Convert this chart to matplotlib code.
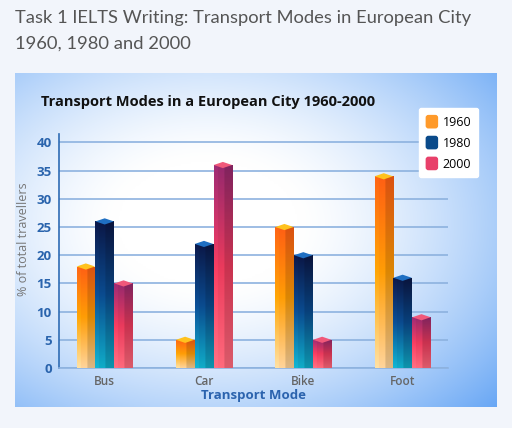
import numpy as np
import matplotlib
matplotlib.use('Agg')
import matplotlib.pyplot as plt
from matplotlib.patches import Polygon, Patch, FancyBboxPatch
from matplotlib.legend_handler import HandlerPatch
from matplotlib.colors import to_rgb

#T# data
modes = ['Bus', 'Car', 'Bike', 'Foot']
years = ['1960', '1980', '2000']
vals_1960 = [18, 5, 25, 34]
vals_1980 = [26, 22, 20, 16]
vals_2000 = [15, 36, 5, 9]
y_ticks = [0, 5, 10, 15, 20, 25, 30, 35, 40]

#T# colours of each series: top, middle, bottom, cap, legend
styles = {
    '1960': ('#ff5f14', '#ff9d05', '#ffd49a', '#ffc21e', '#ff9a2a'),
    '1980': ('#0b1746', '#0a4b8f', '#10acc8', '#1f6fc2', '#0a4a8a'),
    '2000': ('#96296e', '#ea3a5c', '#ff6a7c', '#f0587a', '#e8406a'),
}

fig = plt.figure(figsize=(5.12, 4.28), dpi=100)
fig.patch.set_facecolor('#f2f5fb')

#T# header text of the page
fig.text(15/512, 1 - 18/428, 'Task 1 IELTS Writing: Transport Modes in European City',
         fontsize=13.2, color='#555555', family='Lato', va='center')
fig.text(15/512, 1 - 44/428, '1960, 1980 and 2000',
         fontsize=13.2, color='#555555', family='Lato', va='center')

#T# panel with a white to blue gradient
bg = fig.add_axes([15/512, 1 - 407/428, 482/512, 334/428])
yy, xx = np.mgrid[0:1:200j, 0:1:300j]
d = np.sqrt(((xx - 0.4) / 0.75)**2 + ((yy - 0.45) / 0.75)**2)
t = np.clip(d - 0.25, 0, 1)**1.4
white = np.array(to_rgb('#ffffff'))
blue = np.array(to_rgb('#3e8ef2'))
img = white[None, None, :] * (1 - t[..., None]) + blue[None, None, :] * t[..., None]
bg.imshow(np.clip(img, 0, 1), aspect='auto', extent=[0, 1, 0, 1], origin='upper')
bg.axis('off')

fig.text(41/512, 1 - 102/428, 'Transport Modes in a European City 1960-2000',
         fontsize=10.5, fontweight='bold', color='#111111', family='Open Sans', va='center')

ax = fig.add_axes([58.7/512, 60/428, (448 - 58.7)/512, 234/428])
ax.patch.set_alpha(0)

x = np.arange(len(modes))
width = 0.185
offsets = [-0.19, 0.0, 0.19]


def bar_gradient(c_top, c_mid, c_bot, n=120):
    s = np.linspace(0, 1, n)[:, None]
    top, mid, bot = (np.array(to_rgb(c)) for c in (c_top, c_mid, c_bot))
    col = np.where(s[..., None] < 0.5,
                   top * (1 - 2*s[..., None]) + mid * (2*s[..., None]),
                   mid * (2 - 2*s[..., None]) + bot * (2*s[..., None] - 1))
    col = np.repeat(col, 20, axis=1)
    shade = np.ones(20)
    shade[11:] = 0.86
    shade[:4] = 1.06
    return np.clip(col * shade[None, :, None], 0, 1)


for year, vals, off in zip(years, [vals_1960, vals_1980, vals_2000], offsets):
    c_top, c_mid, c_bot, c_cap, _ = styles[year]
    bars = ax.bar(x + off, vals, width, color='none', edgecolor='none', zorder=3)
    grad = bar_gradient(c_top, c_mid, c_bot)
    for b in bars:
        x0, w, h = b.get_x(), b.get_width(), b.get_height()
        im = ax.imshow(grad, extent=[x0, x0 + w, 0, h], aspect='auto',
                       origin='upper', zorder=3)
        im.set_clip_path(b)
        cap = Polygon([(x0, h), (x0 + w/2, h + 0.55), (x0 + w, h), (x0 + w/2, h - 0.55)],
                      closed=True, facecolor=c_cap, edgecolor='none', zorder=4)
        ax.add_patch(cap)

ax.set_xlim(-0.463, 3.457)
ax.set_ylim(0, 41.5)
ax.set_yticks(y_ticks)
ax.set_xticks(x)
ax.set_xticklabels(modes)
ax.yaxis.grid(True, color='#8db2df', linewidth=1.2, zorder=0)
ax.set_axisbelow(True)
for s in ['top', 'right']:
    ax.spines[s].set_visible(False)
ax.spines['left'].set_color('#2f6cb4')
ax.spines['left'].set_linewidth(1.2)
ax.spines['bottom'].set_color('#8db2df')
ax.spines['bottom'].set_linewidth(1.2)
ax.tick_params(axis='both', length=0)
ax.tick_params(axis='y', pad=5, labelcolor='#2a64ad', labelsize=9.5)
ax.tick_params(axis='x', pad=5, labelcolor='#666666', labelsize=8.5)
for lbl in ax.get_yticklabels():
    lbl.set_fontweight('bold')
    lbl.set_family('Open Sans')
for lbl in ax.get_xticklabels():
    lbl.set_family('Open Sans')
    lbl.set_fontweight('semibold')
ax.set_ylabel('% of total travellers', fontsize=9, color='#777777', family='Open Sans')
ax.yaxis.set_label_coords(-0.074, 0.55)
ax.set_xlabel('Transport Mode', fontsize=9.5, color='#2b63ae', fontweight='bold',
              family='Open Sans', labelpad=1)


class RoundHandler(HandlerPatch):
    def create_artists(self, legend, orig_handle, xdescent, ydescent, width, height, fontsize, trans):
        p = FancyBboxPatch((-xdescent, -ydescent), width, height,
                           boxstyle='round,pad=0,rounding_size=2',
                           facecolor=orig_handle.get_facecolor(), edgecolor='none', transform=trans)
        return [p]


handles = [Patch(facecolor=styles[y][4], edgecolor='none') for y in years]
leg = fig.legend(handles, years, loc='upper right', bbox_to_anchor=(478/512, 1 - 108/428),
                 frameon=True, fancybox=True, facecolor='white', edgecolor='white',
                 framealpha=1, handlelength=1.0, handleheight=1.3, borderaxespad=0,
                 handletextpad=0.35, labelspacing=0.55, borderpad=0.55,
                 handler_map={Patch: RoundHandler()},
                 prop={'family': 'Open Sans', 'size': 9})

fig.savefig('out.png', dpi=100, facecolor=fig.get_facecolor())
